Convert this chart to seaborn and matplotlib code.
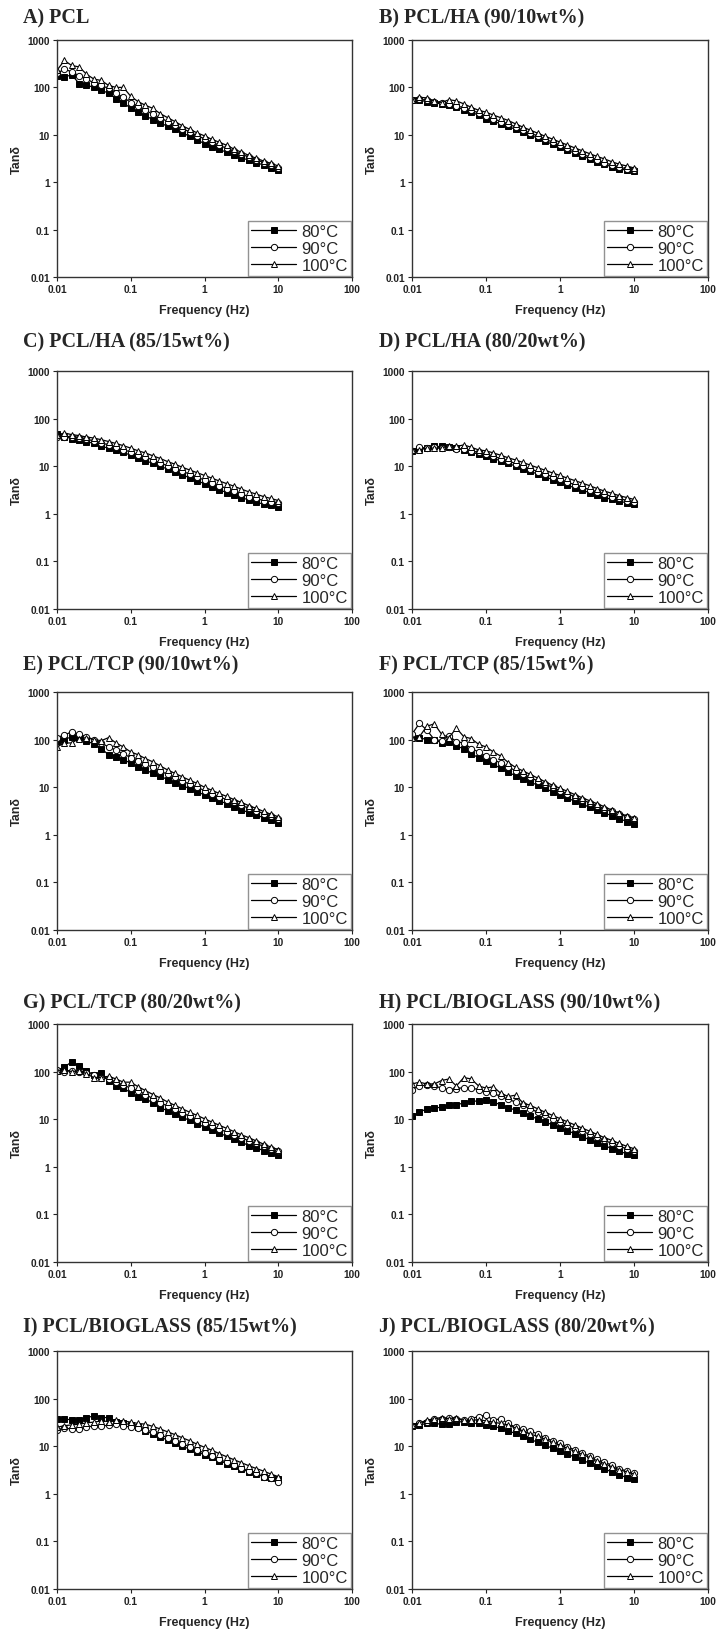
import matplotlib
matplotlib.use("Agg")
import matplotlib.pyplot as plt
import seaborn as sns

# frequency sweep, 10 points per decade (Hz)
freq = [0.01, 0.0126, 0.0158, 0.02, 0.0251, 0.0316, 0.0398, 0.0501, 0.0631, 0.0794,
        0.1, 0.126, 0.158, 0.2, 0.251, 0.316, 0.398, 0.501, 0.631, 0.794,
        1, 1.26, 1.58, 2, 2.51, 3.16, 3.98, 5.01, 6.31, 7.94, 10]

temps = ['80°C', '90°C', '100°C']

titles = ['A) PCL', 'B) PCL/HA (90/10wt%)', 'C) PCL/HA (85/15wt%)', 'D) PCL/HA (80/20wt%)',
          'E) PCL/TCP (90/10wt%)', 'F) PCL/TCP (85/15wt%)', 'G) PCL/TCP (80/20wt%)',
          'H) PCL/BIOGLASS (90/10wt%)', 'I) PCL/BIOGLASS (85/15wt%)', 'J) PCL/BIOGLASS (80/20wt%)']

# tan delta, one list per temperature (80, 90, 100 °C)
pcl_80 = [170, 165, 185, 120, 112, 100, 88, 75, 58, 48, 36, 30, 25, 21, 18, 15, 13, 11, 9.3, 7.8,
          6.5, 5.6, 4.9, 4.3, 3.8, 3.3, 2.9, 2.6, 2.3, 2.0, 1.8]
pcl_90 = [200, 240, 215, 175, 150, 125, 110, 95, 75, 62, 48, 40, 33, 27, 23, 19, 16, 13.5, 11.5, 9.6,
          8.2, 7, 6, 5.2, 4.5, 3.9, 3.4, 3.0, 2.6, 2.3, 2.0]
pcl_100 = [230, 370, 290, 270, 190, 150, 140, 110, 100, 100, 65, 50, 42, 36, 28, 23, 19, 15.5, 13, 11,
           9.5, 8, 7, 6, 5, 4.3, 3.7, 3.2, 2.8, 2.5, 2.2]

ha10_80 = [55, 54, 50, 47, 45, 42, 38, 34, 30, 26, 22, 19.5, 17, 15, 13, 11.3, 9.8, 8.5, 7.3, 6.3,
           5.4, 4.7, 4.1, 3.6, 3.1, 2.7, 2.4, 2.1, 1.9, 1.8, 1.7]
ha10_90 = [55, 56, 54, 50, 47, 45, 41, 37, 33, 29, 25, 22, 19, 17, 14.5, 12.5, 10.8, 9.4, 8.1, 7,
           6, 5.2, 4.5, 3.9, 3.4, 3, 2.6, 2.3, 2.1, 1.9, 1.8]
ha10_100 = [55, 62, 60, 52, 48, 55, 52, 45, 38, 33, 30, 26, 23, 20, 17, 14.5, 12.5, 10.8, 9.3, 8.1,
            7, 6.1, 5.3, 4.6, 4, 3.5, 3.1, 2.7, 2.4, 2.2, 2.0]

ha15_80 = [48, 42, 38, 36, 33, 30, 26, 24, 22, 19.5, 17, 15, 13, 11.5, 10, 8.7, 7.6, 6.6, 5.7, 4.9,
           4.3, 3.7, 3.2, 2.8, 2.5, 2.2, 1.95, 1.75, 1.6, 1.5, 1.4]
ha15_90 = [42, 42, 42, 40, 37, 34, 31, 28, 25, 22, 20, 17.5, 15.5, 13.5, 11.7, 10.2, 8.9, 7.8, 6.8, 5.9,
           5.1, 4.4, 3.9, 3.4, 3, 2.6, 2.3, 2.1, 1.9, 1.75, 1.65]
ha15_100 = [45, 50, 46, 44, 41, 39, 36, 33, 30, 27, 24, 21, 19, 16.5, 14.5, 12.5, 11, 9.5, 8.3, 7.3,
            6.4, 5.6, 4.9, 4.3, 3.8, 3.3, 2.9, 2.6, 2.3, 2.1, 1.9]

ha20_80 = [21, 23, 24, 26, 26, 25, 24, 22, 19.5, 18, 16.5, 14.5, 13, 11.5, 10, 8.8, 7.8, 6.8, 6, 5.2,
           4.6, 4, 3.5, 3.1, 2.8, 2.5, 2.2, 2, 1.85, 1.7, 1.6]
ha20_90 = [21, 25, 24, 25, 24, 25, 23, 23, 21, 19.5, 18, 16, 14.5, 13, 11.3, 10, 8.8, 7.7, 6.8, 6,
           5.3, 4.6, 4.1, 3.6, 3.2, 2.9, 2.6, 2.3, 2.1, 1.9, 1.8]
ha20_100 = [22, 22, 24, 24, 24, 27, 26, 28, 25, 22, 21, 19, 17, 15, 13.5, 12, 10.5, 9.3, 8.2, 7.2,
            6.4, 5.6, 5, 4.4, 3.9, 3.4, 3, 2.7, 2.4, 2.2, 2.0]

tcp10_80 = [95, 100, 115, 110, 95, 80, 65, 48, 44, 38, 32, 27, 23, 19.5, 17, 14.5, 12.5, 10.8, 9.3, 8,
            6.9, 6, 5.2, 4.5, 3.9, 3.4, 2.9, 2.6, 2.3, 2, 1.8]
tcp10_90 = [110, 125, 145, 130, 115, 100, 85, 70, 60, 50, 42, 35, 30, 26, 22, 18.5, 16, 13.5, 11.5, 10,
            8.5, 7.3, 6.3, 5.5, 4.8, 4.2, 3.6, 3.2, 2.8, 2.5, 2.2]
tcp10_100 = [70, 85, 85, 105, 110, 100, 95, 110, 85, 70, 55, 48, 40, 34, 28, 23, 19.5, 16.5, 14, 12,
             10, 8.6, 7.4, 6.4, 5.5, 4.8, 4.1, 3.6, 3.1, 2.7, 2.4]

tcp15_80 = [115, 110, 100, 100, 85, 90, 72, 65, 50, 42, 36, 30, 25, 20.5, 17.5, 15, 12.8, 11, 9.4, 8,
            6.8, 5.9, 5.1, 4.4, 3.8, 3.3, 2.9, 2.5, 2.2, 1.9, 1.7]
tcp15_90 = [130, 220, 160, 100, 95, 120, 90, 85, 65, 55, 45, 38, 32, 27, 22, 19, 16, 13.5, 11.5, 10,
            8.5, 7.3, 6.3, 5.4, 4.7, 4.1, 3.5, 3.1, 2.7, 2.4, 2.1]
tcp15_100 = [110, 115, 190, 215, 130, 110, 175, 115, 105, 80, 70, 55, 45, 33, 26, 22, 18.5, 15.5, 13, 11,
             9.5, 8.2, 7, 6, 5.2, 4.5, 3.9, 3.3, 2.9, 2.5, 2.3]

tcp20_80 = [105, 125, 160, 130, 105, 85, 95, 65, 50, 45, 36, 29, 27, 22, 17.5, 15, 13, 11, 9.4, 8,
            6.8, 5.9, 5.1, 4.4, 3.8, 3.3, 2.8, 2.5, 2.2, 1.95, 1.75]
tcp20_90 = [110, 100, 105, 100, 95, 85, 75, 70, 60, 52, 45, 40, 33, 27, 22, 19, 16, 13.5, 11.5, 9.8,
            8.4, 7.2, 6.2, 5.4, 4.7, 4.1, 3.5, 3.1, 2.7, 2.4, 2.1]
tcp20_100 = [105, 110, 100, 105, 90, 75, 75, 80, 70, 60, 60, 48, 40, 33, 28, 23, 19.5, 16.5, 14, 12,
             10.2, 8.7, 7.5, 6.4, 5.5, 4.7, 4.1, 3.5, 3.0, 2.6, 2.3]

bg10_80 = [11.5, 14, 16.5, 17, 18, 19.5, 20, 22, 24, 24, 25, 23, 20, 17.5, 15.5, 13.5, 11.7, 10, 8.7, 7.6,
           6.6, 5.7, 5, 4.3, 3.7, 3.2, 2.8, 2.4, 2.1, 1.9, 1.75]
bg10_90 = [42, 50, 52, 50, 45, 42, 44, 46, 45, 42, 38, 35, 30, 26, 23, 19.5, 16.5, 14, 12, 10.3,
           8.8, 7.5, 6.5, 5.6, 4.8, 4.2, 3.6, 3.1, 2.7, 2.4, 2.1]
bg10_100 = [55, 60, 55, 55, 65, 70, 50, 75, 70, 50, 45, 48, 35, 30, 32, 22, 19.5, 16.5, 14, 12,
            10.3, 8.8, 7.6, 6.5, 5.6, 4.8, 4.1, 3.6, 3.1, 2.7, 2.4]

bg15_80 = [38, 37, 36, 36, 40, 43, 40, 40, 33, 31, 28, 25, 21, 18, 15.5, 13.5, 11.5, 10, 8.7, 7.6,
           6.6, 5.8, 5, 4.3, 3.8, 3.3, 2.9, 2.6, 2.3, 2.1, 2.0]
bg15_90 = [22, 24, 23, 23, 25, 27, 26, 28, 29, 27, 25, 24, 22, 20, 17.5, 15, 13, 11.3, 9.7, 8.3,
           7.2, 6.2, 5.3, 4.6, 4, 3.5, 3, 2.7, 2.3, 2.1, 1.8]
bg15_100 = [25, 27, 28, 29, 31, 32, 34, 33, 35, 34, 32, 30, 29, 26, 23, 20, 17.5, 15, 13, 11,
            9.5, 8.2, 7, 6, 5.2, 4.5, 3.9, 3.4, 3, 2.6, 2.3]

bg20_80 = [27, 28, 30, 30, 29, 29, 32, 33, 30, 30, 28, 26, 24, 21, 18.5, 16, 14, 12, 10.5, 9,
           7.8, 6.8, 5.9, 5.1, 4.4, 3.8, 3.3, 2.9, 2.5, 2.2, 2.0]
bg20_90 = [27, 30, 33, 37, 37, 40, 38, 35, 38, 42, 45, 35, 38, 30, 25, 23, 21, 18, 15, 13,
           11.5, 9.8, 8.4, 7.2, 6.2, 5.3, 4.6, 4, 3.4, 3, 2.7]
bg20_100 = [28, 31, 35, 38, 40, 38, 40, 35, 35, 36, 34, 32, 30, 28, 24, 21, 18, 16, 14, 12,
            10.5, 9, 7.8, 6.7, 5.8, 5, 4.3, 3.7, 3.2, 2.9, 2.6]

panels = [
    (pcl_80, pcl_90, pcl_100),
    (ha10_80, ha10_90, ha10_100),
    (ha15_80, ha15_90, ha15_100),
    (ha20_80, ha20_90, ha20_100),
    (tcp10_80, tcp10_90, tcp10_100),
    (tcp15_80, tcp15_90, tcp15_100),
    (tcp20_80, tcp20_90, tcp20_100),
    (bg10_80, bg10_90, bg10_100),
    (bg15_80, bg15_90, bg15_100),
    (bg20_80, bg20_90, bg20_100),
]

sns.set_style("ticks")
plt.rcParams['font.family'] = ['Liberation Sans', 'DejaVu Sans']

W, H = 716, 1631
fig = plt.figure(figsize=(W / 100, H / 100), dpi=100)

# pixel boxes of the plotting areas (left, top, right, bottom), and title centre line
row_px = [(41, 278, 18), (372, 610, 342), (693, 931, 665), (1025, 1263, 1003), (1352, 1590, 1327)]
col_px = [(57, 352, 23), (412, 708, 379)]

styles = [dict(marker='s', markerfacecolor='black'),
          dict(marker='o', markerfacecolor='white'),
          dict(marker='^', markerfacecolor='white')]

for i, (series, title) in enumerate(zip(panels, titles)):
    top, bot, ty = row_px[i // 2]
    left, right, tx = col_px[i % 2]
    ax = fig.add_axes([left / W, 1 - bot / H, (right - left) / W, (bot - top) / H])

    for vals, lab, st in zip(series, temps, styles):
        sns.lineplot(x=freq, y=vals, ax=ax, color='black', linewidth=0.9, label=lab,
                     markersize=4.5, markeredgecolor='black', markeredgewidth=0.7, **st)

    ax.set_xscale('log')
    ax.set_yscale('log')
    ax.set_xlim(0.01, 100)
    ax.set_ylim(0.01, 1000)
    ax.set_xticks([0.01, 0.1, 1, 10, 100])
    ax.set_xticklabels(['0.01', '0.1', '1', '10', '100'])
    ax.set_yticks([0.01, 0.1, 1, 10, 100, 1000])
    ax.set_yticklabels(['0.01', '0.1', '1', '10', '100', '1000'])
    ax.minorticks_off()
    ax.tick_params(axis='both', direction='out', length=3, width=0.8, labelsize=7.3, pad=2,
                   colors='#222222')
    for lbl in ax.get_xticklabels() + ax.get_yticklabels():
        lbl.set_fontweight('bold')
    for sp in ax.spines.values():
        sp.set_color('#333333')
        sp.set_linewidth(1.0)

    ax.set_xlabel('Frequency (Hz)', fontsize=9, fontweight='bold')
    ax.set_ylabel('Tanδ', fontsize=9, fontweight='bold')
    ax.xaxis.set_label_coords(0.5, -0.113)
    ax.yaxis.set_label_coords(-0.115, 0.5)

    leg = ax.legend(loc='lower right', fontsize=12, frameon=True, fancybox=False,
                    borderaxespad=0.05, borderpad=0.2, labelspacing=0.12,
                    handlelength=2.7, handletextpad=0.3)
    leg.get_frame().set_edgecolor('#777777')
    leg.get_frame().set_linewidth(1.0)

    fig.text(tx / W, 1 - ty / H, title, ha='left', va='center',
             family='Liberation Serif', fontweight='bold', fontsize=14.5)

fig.savefig('out.png', dpi=100)
